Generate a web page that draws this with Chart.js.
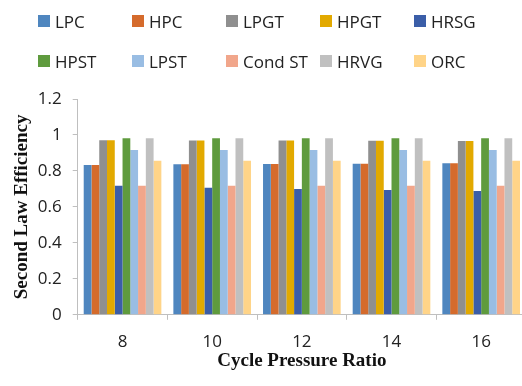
<!DOCTYPE html>
<html>
<head>
<meta charset="utf-8">
<script src="https://cdn.jsdelivr.net/npm/chart.js@4"></script>
<style>
  html, body { margin: 0; padding: 0; background: #fff; overflow: hidden; }
  #wrap { position: relative; width: 528px; height: 386px; }
  #legend {
    position: absolute; left: 38px; top: 1px;
    display: grid; grid-template-columns: repeat(5, 94px); grid-auto-rows: 40px;
    font-family: 'Open Sans', sans-serif; font-size: 17px; color: #222;
  }
  #legend .item { display: flex; align-items: center; white-space: nowrap; }
  #legend .box { width: 12px; height: 12px; margin-right: 5px; flex: none; }
</style>
</head>
<body>
<div id="wrap">
  <canvas id="chart" width="528" height="386"></canvas>
  <div id="legend"></div>
</div>
<script>
// Second law efficiency of each component vs cycle pressure ratio

const pressureRatios = ['8', '10', '12', '14', '16'];

const lpc    = [0.833, 0.837, 0.838, 0.840, 0.843];
const hpc    = [0.833, 0.837, 0.838, 0.840, 0.843];
const lpgt   = [0.970, 0.969, 0.969, 0.968, 0.967];
const hpgt   = [0.970, 0.969, 0.969, 0.968, 0.967];
const hrsg   = [0.717, 0.707, 0.700, 0.694, 0.689];
const hpst   = [0.982, 0.982, 0.982, 0.982, 0.982];
const lpst   = [0.917, 0.917, 0.917, 0.917, 0.917];
const condSt = [0.717, 0.717, 0.717, 0.717, 0.717];
const hrvg   = [0.982, 0.982, 0.982, 0.982, 0.982];
const orc    = [0.856, 0.856, 0.856, 0.856, 0.856];

const yTicks = [0, 0.2, 0.4, 0.6, 0.8, 1, 1.2];

const SERIES = [
  { label: 'LPC',     data: lpc,    color: '#4F86BF' },
  { label: 'HPC',     data: hpc,    color: '#D56B2C' },
  { label: 'LPGT',    data: lpgt,   color: '#8F8F8F' },
  { label: 'HPGT',    data: hpgt,   color: '#E2A900' },
  { label: 'HRSG',    data: hrsg,   color: '#3B5EA8' },
  { label: 'HPST',    data: hpst,   color: '#5F9B3E' },
  { label: 'LPST',    data: lpst,   color: '#99BDE3' },
  { label: 'Cond ST', data: condSt, color: '#F1A68B' },
  { label: 'HRVG',    data: hrvg,   color: '#C0C0C0' },
  { label: 'ORC',     data: orc,    color: '#FFD488' },
];

const AXIS_GRAY = '#BFBFBF';
const TICK_FONT = { family: "'Open Sans', sans-serif", size: 17 };
const TITLE_FONT = { family: "'Liberation Serif', 'Times New Roman', serif", size: 19, weight: 'bold' };

// legend laid out as a fixed 5-column grid
const legendEl = document.getElementById('legend');
SERIES.forEach(s => {
  const item = document.createElement('div');
  item.className = 'item';
  item.innerHTML = `<span class="box" style="background:${s.color}"></span><span>${s.label}</span>`;
  legendEl.appendChild(item);
});

new Chart(document.getElementById('chart'), {
  type: 'bar',
  data: {
    labels: pressureRatios,
    datasets: SERIES.map(s => ({
      label: s.label,
      data: s.data,
      backgroundColor: s.color,
      borderWidth: 0,
      categoryPercentage: 0.866,
      barPercentage: 1,
    })),
  },
  options: {
    responsive: false,
    animation: false,
    layout: { padding: { top: 99, left: 11, right: 2, bottom: 14 } },
    plugins: { legend: { display: false }, tooltip: { enabled: false } },
    scales: {
      x: {
        grid: { drawOnChartArea: false, color: AXIS_GRAY, tickLength: 5, offset: true },
        border: { color: AXIS_GRAY },
        ticks: { color: '#222', font: TICK_FONT, padding: 12 },
        title: { display: true, text: 'Cycle Pressure Ratio', color: '#111', font: TITLE_FONT, padding: { top: -15, bottom: 0 } },
      },
      y: {
        min: 0,
        max: 1.2,
        afterBuildTicks: axis => { axis.ticks = yTicks.map(v => ({ value: v })); },
        grid: { drawOnChartArea: false, color: AXIS_GRAY, tickLength: 5 },
        border: { color: AXIS_GRAY },
        ticks: { color: '#222', font: TICK_FONT, padding: 11, callback: v => String(v) },
        title: { display: true, text: 'Second Law Efficiency', color: '#111', font: TITLE_FONT, padding: { top: 0, bottom: -7 } },
      },
    },
  },
});
</script>
</body>
</html>
